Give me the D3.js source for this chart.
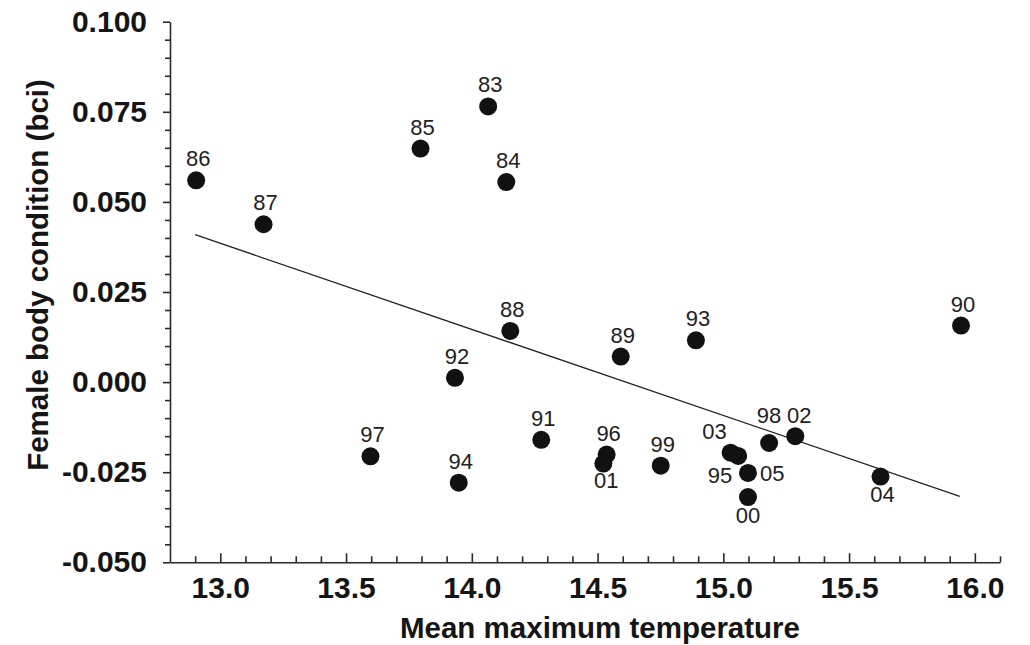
<!DOCTYPE html>
<html>
<head>
<meta charset="utf-8">
<script src="https://cdn.jsdelivr.net/npm/d3@7"></script>
<style>
  html, body { margin: 0; padding: 0; background: #fff; }
  svg { display: block; }
  text { font-family: "Liberation Sans", Arial, Helvetica, sans-serif; }
</style>
</head>
<body>
<svg id="chart" width="1030" height="645"></svg>
<script>
// Year labels (two-digit) for each observation
const years = ["86","87","85","83","84","88","89","92","97","94","91","96","01","99","93","90","03","95","05","00","98","02","04"];
// Mean maximum temperature for each year
const temperature = [12.904,13.172,13.796,14.065,14.137,14.153,14.592,13.933,13.597,13.948,14.276,14.536,14.523,14.751,14.891,15.945,15.029,15.059,15.098,15.098,15.182,15.286,15.625];
// Female body condition index for each year
const bodyCondition = [0.0560,0.0438,0.0648,0.0765,0.0555,0.0142,0.0071,0.0012,-0.0206,-0.0279,-0.0160,-0.0201,-0.0226,-0.0232,0.0116,0.0157,-0.0196,-0.0205,-0.0252,-0.0319,-0.0169,-0.0150,-0.0262];
// Fitted regression line end points
const trendX = [12.90, 15.94];
const trendY = [0.0409, -0.0317];
// Axis tick values
const xMajorTicks = [13.0, 13.5, 14.0, 14.5, 15.0, 15.5, 16.0];
const yMajorTicks = [-0.050, -0.025, 0.000, 0.025, 0.050, 0.075, 0.100];

const svg = d3.select("#chart");
const plotLeft = 170, plotRight = 1000, plotTop = 21.7, plotBottom = 562.3;

const x = d3.scaleLinear().domain([12.8, 16.1]).range([plotLeft, plotRight]);
const y = d3.scaleLinear().domain([-0.05, 0.1]).range([plotBottom, plotTop]);

const axisColor = "#2a2a2a";
const textColor = "#151515";
const tickFont = 30, titleFont = 29.5, labelFont = 22;

// Minor tick positions (0.1 on x, 0.005 on y), skipping majors
const xMinor = d3.range(129, 162).map(d => d / 10).filter(d => Math.abs(d * 2 - Math.round(d * 2)) > 1e-6);
const yMinor = d3.range(-9, 20).map(d => d * 0.005).filter(d => Math.abs(d / 0.025 - Math.round(d / 0.025)) > 1e-6);

// Y axis: major ticks with labels, then unlabeled minor ticks
const gy = svg.append("g").attr("transform", `translate(${plotLeft},0)`);
const gyMajor = gy.append("g").call(d3.axisLeft(y).tickValues(yMajorTicks).tickSize(7).tickSizeOuter(0).tickPadding(16)
  .tickFormat(d => d3.format(".3f")(d).replace("\u2212", "-")));
gyMajor.selectAll(".tick text").attr("font-size", tickFont).attr("font-weight", "bold").attr("fill", textColor);
const gyMinor = gy.append("g").call(d3.axisLeft(y).tickValues(yMinor).tickSize(5).tickFormat(""));
gyMinor.select(".domain").remove();
gy.selectAll("line, path").attr("stroke", axisColor).attr("stroke-width", 1.6);

// X axis: ticks point into the plot
const gx = svg.append("g").attr("transform", `translate(0,${plotBottom})`);
const gxMajor = gx.append("g").call(d3.axisBottom(x).tickValues(xMajorTicks).tickSize(-9).tickSizeOuter(0).tickPadding(0)
  .tickFormat(d3.format(".1f")));
gxMajor.selectAll(".tick text").attr("font-size", tickFont).attr("font-weight", "bold").attr("fill", textColor)
  .attr("y", 36).attr("dy", 0);
const gxMinor = gx.append("g").call(d3.axisBottom(x).tickValues(xMinor).tickSize(-6).tickFormat(""));
gxMinor.select(".domain").remove();
gx.selectAll("line, path").attr("stroke", axisColor).attr("stroke-width", 1.6);

// Axis titles
svg.append("text")
  .attr("transform", `translate(48,275) rotate(-90)`)
  .attr("text-anchor", "middle")
  .attr("font-size", titleFont).attr("font-weight", "bold").attr("fill", textColor)
  .text("Female body condition (bci)");
svg.append("text")
  .attr("x", 600).attr("y", 638)
  .attr("text-anchor", "middle")
  .attr("font-size", titleFont).attr("font-weight", "bold").attr("fill", textColor)
  .text("Mean maximum temperature");

// Regression line
svg.append("line")
  .attr("x1", x(trendX[0])).attr("y1", y(trendY[0]))
  .attr("x2", x(trendX[1])).attr("y2", y(trendY[1]))
  .attr("stroke", "#222").attr("stroke-width", 1.3);

// Points
const points = years.map((yr, i) => ({ yr, t: temperature[i], v: bodyCondition[i] }));
svg.append("g").selectAll("circle").data(points).join("circle")
  .attr("cx", d => x(d.t)).attr("cy", d => y(d.v)).attr("r", 9)
  .attr("fill", "#111");

// Year labels: above the point by default, moved where points crowd together
const placement = {
  "01": { dx: 3, dy: 24, anchor: "middle" },
  "95": { dx: -6, dy: 27, anchor: "end" },
  "05": { dx: 12, dy: 8, anchor: "start" },
  "00": { dx: 0, dy: 26, anchor: "middle" },
  "04": { dx: 2, dy: 25, anchor: "middle" },
  "03": { dx: -4, dy: -14, anchor: "end" },
  "98": { dx: 0, dy: -20, anchor: "middle" },
  "02": { dx: 4, dy: -13, anchor: "middle" }
};
const defaultPlace = { dx: 2, dy: -14, anchor: "middle" };
svg.append("g").selectAll("text").data(points).join("text")
  .attr("x", d => x(d.t) + (placement[d.yr] || defaultPlace).dx)
  .attr("y", d => y(d.v) + (placement[d.yr] || defaultPlace).dy)
  .attr("text-anchor", d => (placement[d.yr] || defaultPlace).anchor)
  .attr("font-size", labelFont).attr("fill", "#222")
  .text(d => d.yr);
</script>
</body>
</html>
